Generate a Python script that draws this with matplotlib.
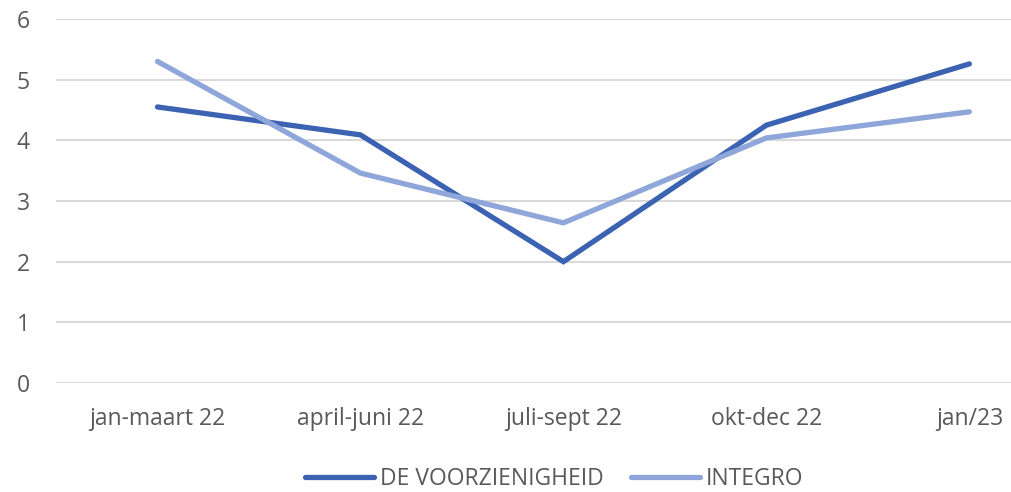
import numpy as np
import matplotlib
matplotlib.use("Agg")
import matplotlib.pyplot as plt

categories = ["jan-maart 22", "april-juni 22", "juli-sept 22", "okt-dec 22", "jan/23"]
voorzienigheid = [4.55, 4.09, 2.00, 4.25, 5.26]
integro = [5.30, 3.46, 2.64, 4.04, 4.47]

plt.rcParams['font.family'] = ['Open Sans', 'DejaVu Sans']

fig = plt.figure(figsize=(10.12, 4.92), dpi=100)
ax = fig.add_axes([56/1012, 109/492, (1012-56)/1012, 364/492])

x = np.arange(len(categories))
ax.plot(x, voorzienigheid, color='#3B63B2', lw=3.8, solid_capstyle='round',
        solid_joinstyle='miter', label='DE VOORZIENIGHEID', zorder=3)
ax.plot(x, integro, color='#8EA6D9', lw=3.8, solid_capstyle='round',
        solid_joinstyle='miter', label='INTEGRO', zorder=3)

ax.set_ylim(0, 6)
ax.set_xlim(-0.5, 4.21)
ax.set_yticks(range(7))
ax.set_xticks(x)
ax.set_xticklabels(categories)
ax.grid(axis='y', color='#D9D9D9', lw=1.5)
ax.set_axisbelow(True)
for s in ax.spines.values():
    s.set_visible(False)
ax.tick_params(length=0, labelsize=16.5, colors='#595959')
ax.tick_params(axis='y', pad=19)
ax.tick_params(axis='x', pad=17)

fig.legend(loc='center', bbox_to_anchor=(554/1012, 1 - 479/492), ncol=2, frameon=False,
           fontsize=16.5, labelcolor='#595959', handlelength=3.0, handletextpad=0.25,
           columnspacing=1.2)

fig.savefig("out.png", dpi=100)
